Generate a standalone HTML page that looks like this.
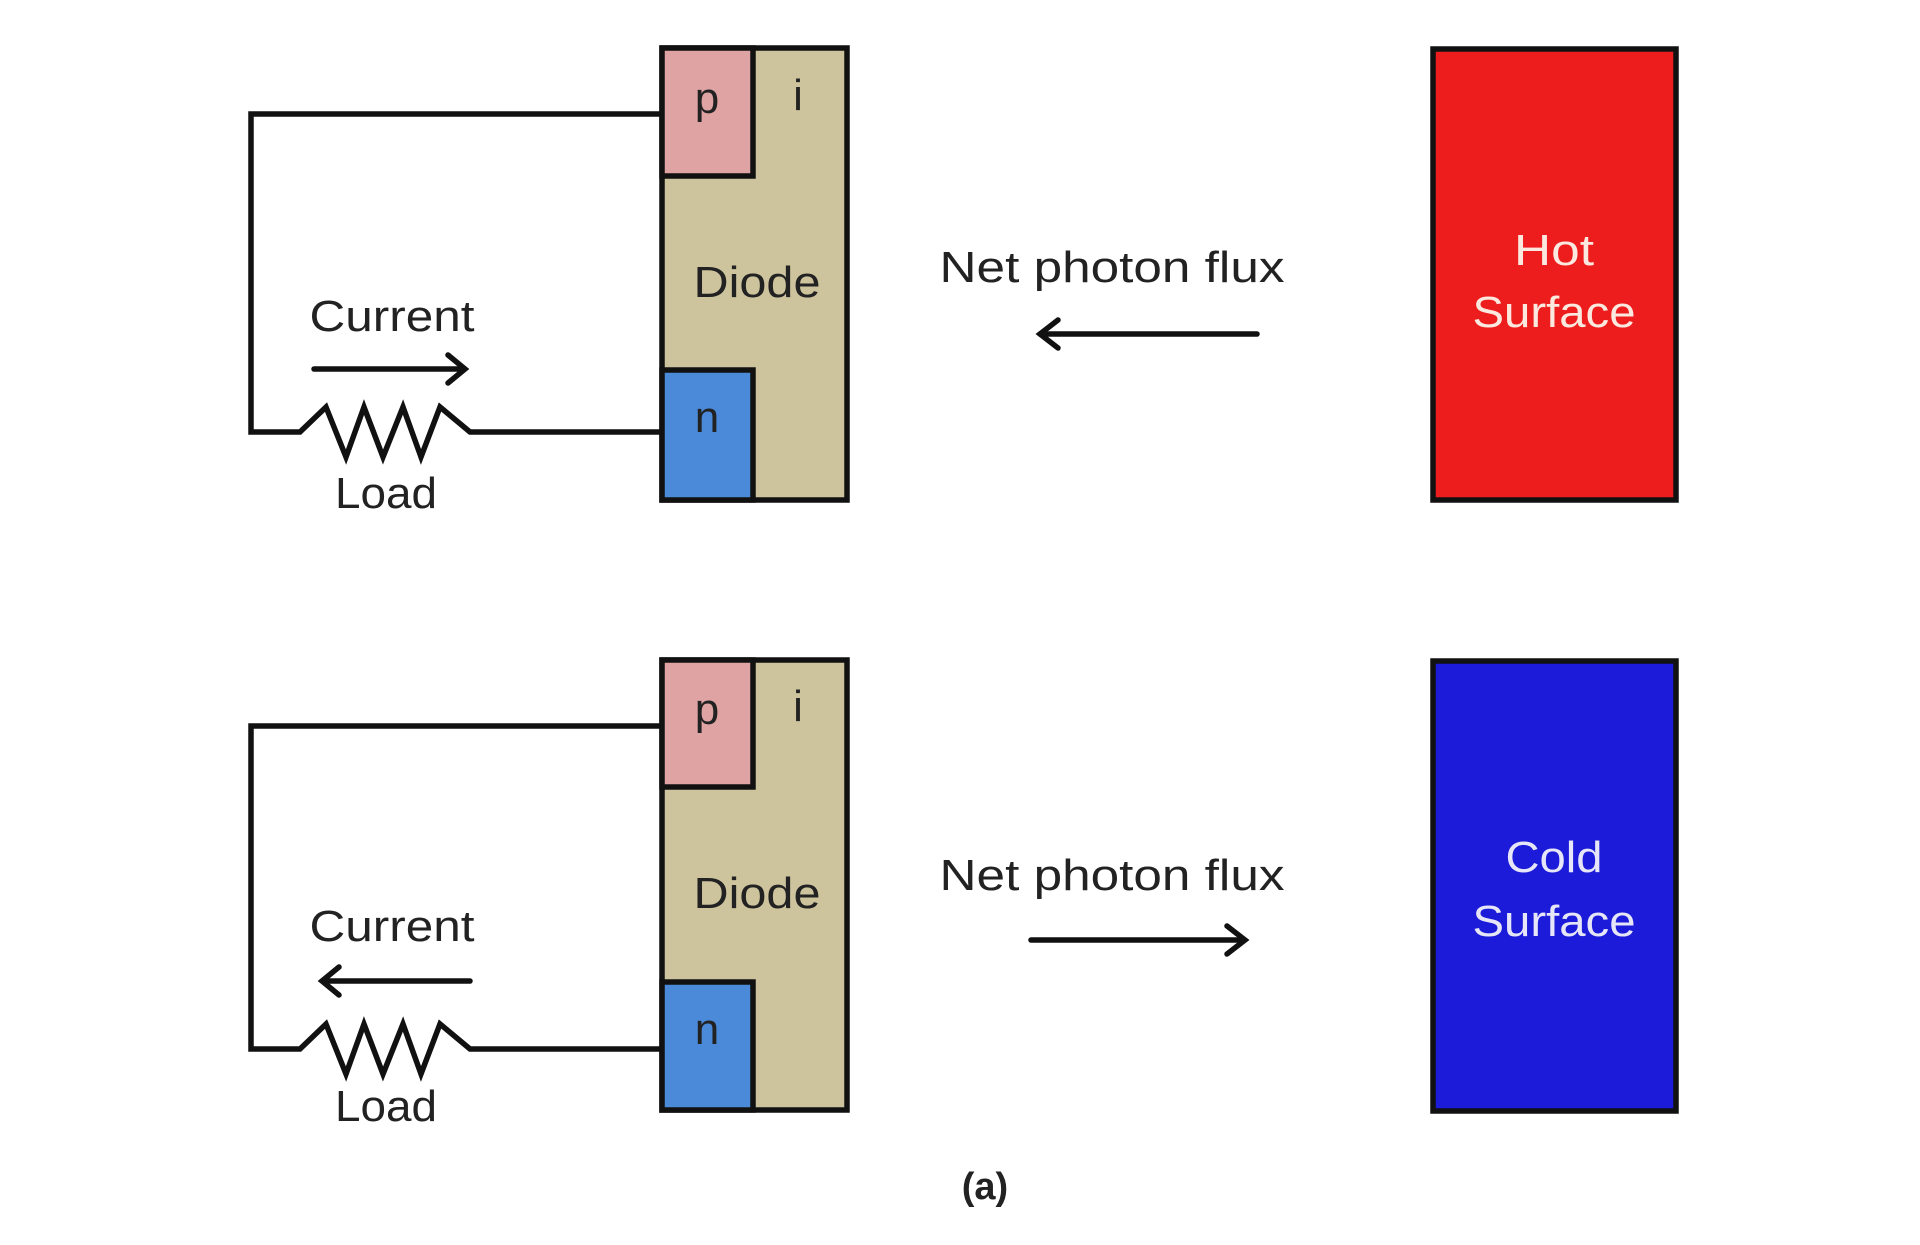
<!DOCTYPE html>
<html><head><meta charset="utf-8"><style>
html,body{margin:0;padding:0;background:#fff;}
svg{display:block;}
text{font-family:"Liberation Sans",sans-serif;}
</style></head><body>
<svg width="1920" height="1245" viewBox="0 0 1920 1245">
<g stroke="#111" stroke-width="5.5" fill="none" stroke-linejoin="miter" stroke-linecap="round">
<polyline points="662,114 251,114 251,432 300,432 326,407 346,457 364,407 383,457 403,407 421,457 440,407 470,432 662,432"/>
<line x1="314" y1="369" x2="463" y2="369"/>
<polyline points="448,355 465,369 448,383"/>
<polyline points="1058,320 1040,334 1058,348"/>
<line x1="1040" y1="334" x2="1257" y2="334"/>
<polyline points="662,726 251,726 251,1049 300,1049 326,1024 346,1074 364,1024 383,1074 403,1024 421,1074 440,1024 470,1049 662,1049"/>
<line x1="324" y1="981" x2="470" y2="981"/>
<polyline points="339,967 322,981 339,995"/>
<line x1="1031" y1="940" x2="1244" y2="940"/>
<polyline points="1227,926 1245,940 1227,954"/>
</g>
<rect x="662" y="48" width="185" height="452" fill="#cdc39d" stroke="#111" stroke-width="5.5"/>
<rect x="662" y="48" width="91" height="128" fill="#e0a3a3" stroke="#111" stroke-width="5.5"/>
<rect x="662" y="370" width="91" height="130" fill="#4b8ad8" stroke="#111" stroke-width="5.5"/>
<rect x="662" y="660" width="185" height="450" fill="#cdc39d" stroke="#111" stroke-width="5.5"/>
<rect x="662" y="660" width="91" height="127" fill="#e0a3a3" stroke="#111" stroke-width="5.5"/>
<rect x="662" y="982" width="91" height="128" fill="#4b8ad8" stroke="#111" stroke-width="5.5"/>
<rect x="1441" y="49" width="243" height="451" fill="#ee1d1d" stroke="#111" stroke-width="5.5" transform="translate(-8,0)"/>
<rect x="1441" y="661" width="243" height="450" fill="#1b1bd9" stroke="#111" stroke-width="5.5" transform="translate(-8,0)"/>
<g fill="#222" font-size="44">
<text x="707" y="113" text-anchor="middle">p</text>
<text x="798" y="110" text-anchor="middle">i</text>
<text x="707" y="432" text-anchor="middle">n</text>
<text x="757" y="297" text-anchor="middle" textLength="127" lengthAdjust="spacingAndGlyphs">Diode</text>
<text x="392" y="331" text-anchor="middle" textLength="165" lengthAdjust="spacingAndGlyphs">Current</text>
<text x="386" y="508" text-anchor="middle" textLength="102" lengthAdjust="spacingAndGlyphs">Load</text>
<text x="1112" y="282" text-anchor="middle" textLength="345" lengthAdjust="spacingAndGlyphs">Net photon flux</text>
<text x="707" y="724" text-anchor="middle">p</text>
<text x="798" y="721" text-anchor="middle">i</text>
<text x="707" y="1044" text-anchor="middle">n</text>
<text x="757" y="908" text-anchor="middle" textLength="127" lengthAdjust="spacingAndGlyphs">Diode</text>
<text x="392" y="941" text-anchor="middle" textLength="165" lengthAdjust="spacingAndGlyphs">Current</text>
<text x="386" y="1121" text-anchor="middle" textLength="102" lengthAdjust="spacingAndGlyphs">Load</text>
<text x="1112" y="890" text-anchor="middle" textLength="345" lengthAdjust="spacingAndGlyphs">Net photon flux</text>
<text x="985" y="1199" text-anchor="middle" font-size="38" font-weight="bold">(a)</text>
</g>
<g fill="#fbe9e0" font-size="44" text-anchor="middle">
<text x="1554" y="265" textLength="80" lengthAdjust="spacingAndGlyphs">Hot</text>
<text x="1554" y="327" textLength="163" lengthAdjust="spacingAndGlyphs">Surface</text>
</g>
<g fill="#e6e6f8" font-size="44" text-anchor="middle">
<text x="1554" y="872" textLength="97" lengthAdjust="spacingAndGlyphs">Cold</text>
<text x="1554" y="936" textLength="163" lengthAdjust="spacingAndGlyphs">Surface</text>
</g>
</svg>
</body></html>
